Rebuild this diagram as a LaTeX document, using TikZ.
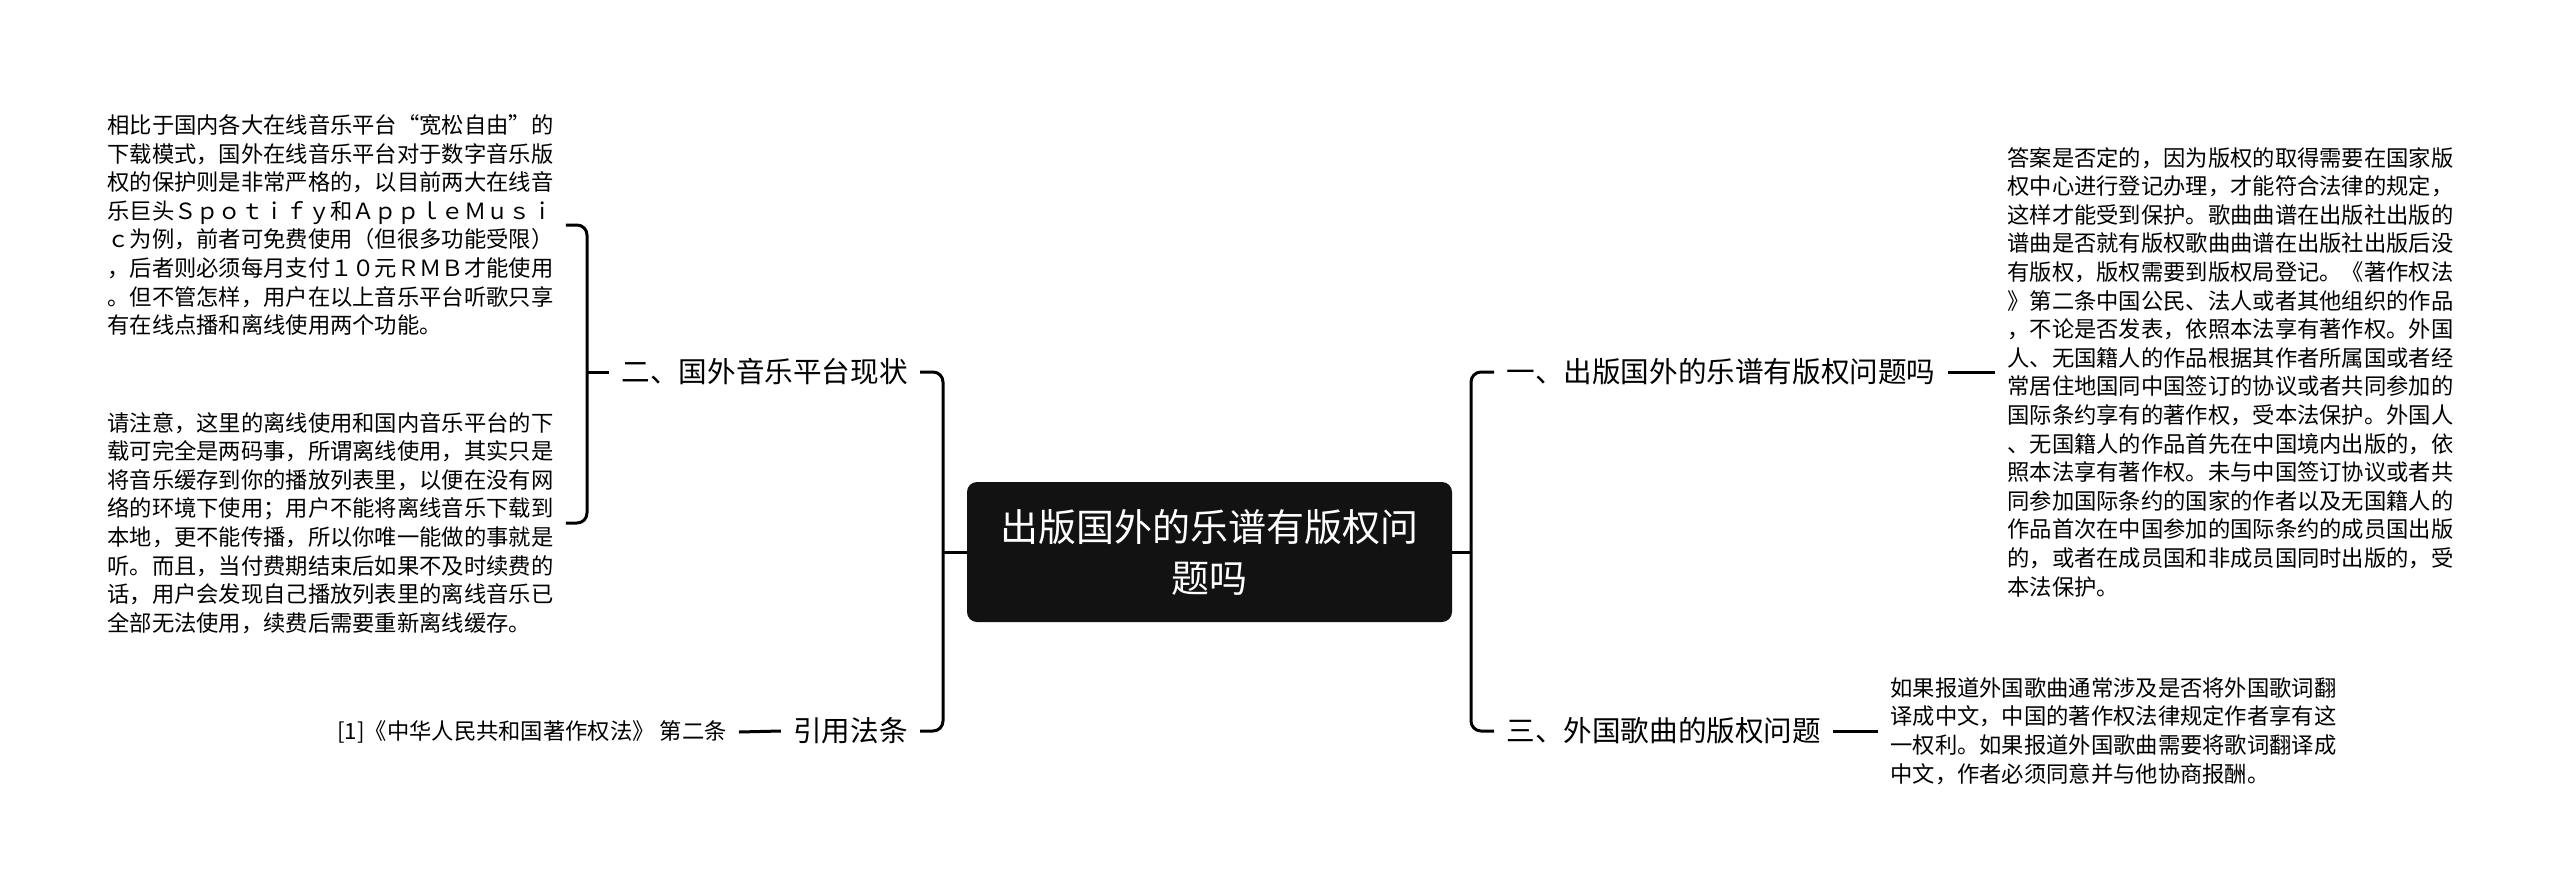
\documentclass[tikz,border=0pt]{standalone}
\usepackage{fontspec}
\setmainfont{Noto Sans CJK SC}

\begin{document}
\begin{tikzpicture}[x=0.5pt,y=-0.5pt,
  link/.style={line width=1.5pt,rounded corners=5pt},
  leaftext/.style={align=left,inner xsep=6pt,inner ysep=0pt,font=\fontsize{11.15}{14.3}\selectfont},
  branchlabel/.style={inner xsep=6pt,inner ysep=2pt,font=\fontsize{14.3}{17}\selectfont},
  rootbox/.style={fill=black!93,text=white,rounded corners=5pt,align=center,
    minimum width=242.5pt,minimum height=70pt,font=\fontsize{19}{25.5}\selectfont}]
  \useasboundingbox (0,0) rectangle (2560,895);

  % centre
  \node[rootbox] (root) at (1209.5,552) {出版国外的乐谱有版权问\\题吗};

  % left side
  \node[branchlabel,anchor=east] (b2) at (920,372) {二、国外音乐平台现状};
  \node[branchlabel,anchor=east] (b4) at (920,731) {引用法条};
  \node[leaftext,anchor=west] (l1) at (95,225) {相比于国内各大在线音乐平台“宽松自由”的\\
    下载模式，国外在线音乐平台对于数字音乐版\\
    权的保护则是非常严格的，以目前两大在线音\\
    乐巨头Ｓｐｏｔｉｆｙ和ＡｐｐｌｅＭｕｓｉ\\
    ｃ为例，前者可免费使用（但很多功能受限）\\
    ，后者则必须每月支付１０元ＲＭＢ才能使用\\
    。但不管怎样，用户在以上音乐平台听歌只享\\
    有在线点播和离线使用两个功能。};
  \node[leaftext,anchor=west] (l2) at (95,523) {请注意，这里的离线使用和国内音乐平台的下\\
    载可完全是两码事，所谓离线使用，其实只是\\
    将音乐缓存到你的播放列表里，以便在没有网\\
    络的环境下使用；用户不能将离线音乐下载到\\
    本地，更不能传播，所以你唯一能做的事就是\\
    听。而且，当付费期结束后如果不及时续费的\\
    话，用户会发现自己播放列表里的离线音乐已\\
    全部无法使用，续费后需要重新离线缓存。};
  \node[leaftext,anchor=east] (l3) at (739,732) {[1]《中华人民共和国著作权法》 第二条};

  % right side
  \node[branchlabel,anchor=west] (b1) at (1494,372) {一、出版国外的乐谱有版权问题吗};
  \node[branchlabel,anchor=west] (b3) at (1494,731) {三、外国歌曲的版权问题};
  \node[leaftext,anchor=west] (r1) at (1995,372) {答案是否定的，因为版权的取得需要在国家版\\
    权中心进行登记办理，才能符合法律的规定，\\
    这样才能受到保护。歌曲曲谱在出版社出版的\\
    谱曲是否就有版权歌曲曲谱在出版社出版后没\\
    有版权，版权需要到版权局登记。《著作权法\\
    》第二条中国公民、法人或者其他组织的作品\\
    ，不论是否发表，依照本法享有著作权。外国\\
    人、无国籍人的作品根据其作者所属国或者经\\
    常居住地国同中国签订的协议或者共同参加的\\
    国际条约享有的著作权，受本法保护。外国人\\
    、无国籍人的作品首先在中国境内出版的，依\\
    照本法享有著作权。未与中国签订协议或者共\\
    同参加国际条约的国家的作者以及无国籍人的\\
    作品首次在中国参加的国际条约的成员国出版\\
    的，或者在成员国和非成员国同时出版的，受\\
    本法保护。};
  \node[leaftext,anchor=west] (r2) at (1878,731) {如果报道外国歌曲通常涉及是否将外国歌词翻\\
    译成中文，中国的著作权法律规定作者享有这\\
    一权利。如果报道外国歌曲需要将歌词翻译成\\
    中文，作者必须同意并与他协商报酬。};

  % trunks
  \coordinate (lj) at (943,552);
  \coordinate (rj) at (1471,552);
  \draw[link] (root.west) -- (lj);
  \draw[link] (lj) |- (b2.east);
  \draw[link] (lj) |- (b4.east);
  \draw[link] (root.east) -- (rj);
  \draw[link] (rj) |- (b1.west);
  \draw[link] (rj) |- (b3.west);

  % leaves
  \coordinate (lk) at (587,372);
  \draw[link] (l1.east) -| (lk) |- (l2.east);
  \draw[link] (lk) -- (b2.west);
  \draw[link] (b4.west) -- (l3.east);
  \draw[link] (b1.east) -- (r1.west);
  \draw[link] (b3.east) -- (r2.west);
\end{tikzpicture}
\end{document}
